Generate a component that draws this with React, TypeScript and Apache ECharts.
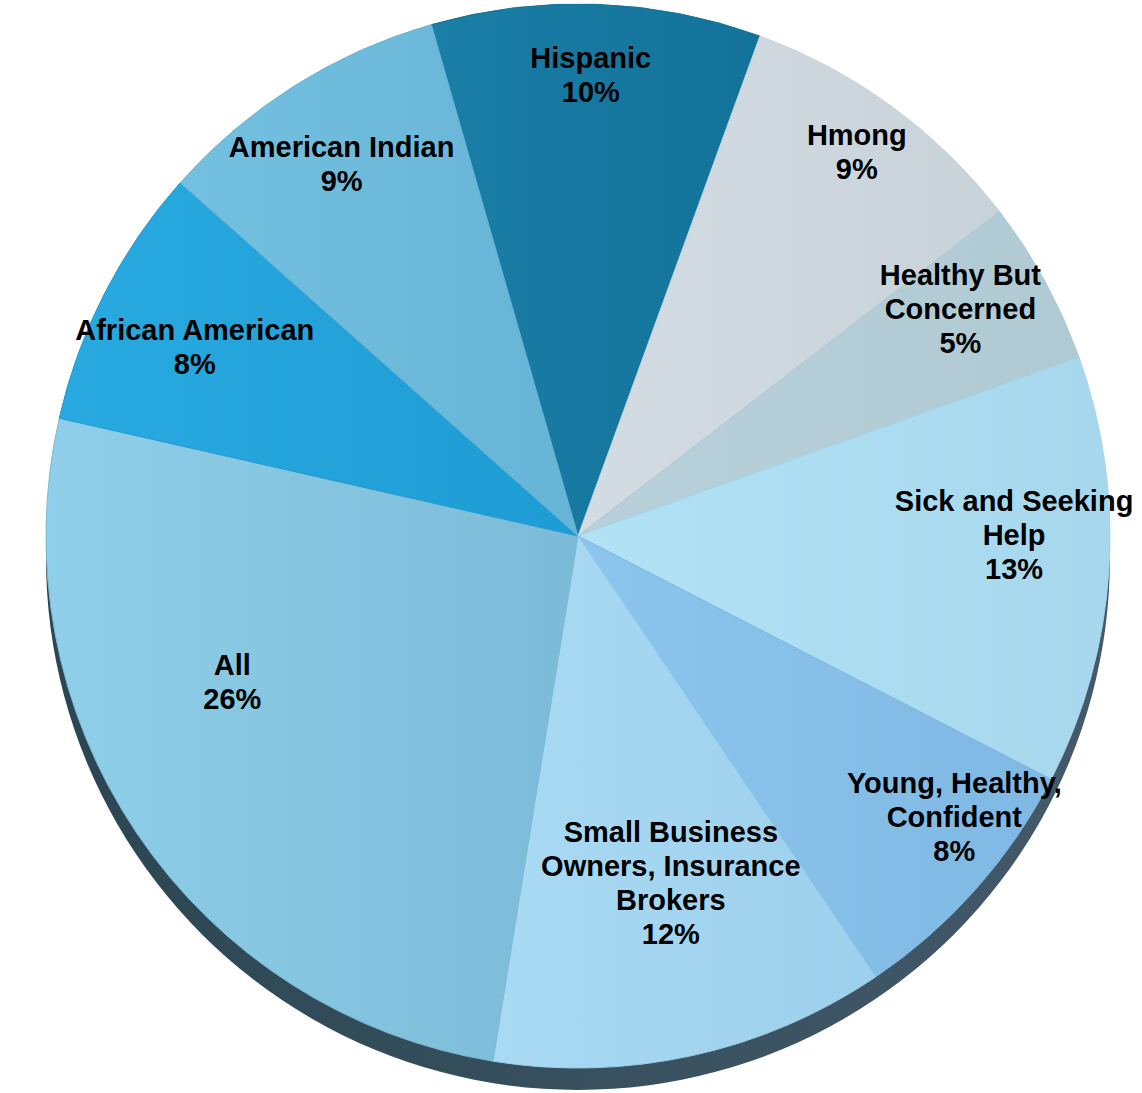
import React, { useEffect, useRef } from "react";
import * as echarts from "echarts";

const categories = [
  "Hispanic",
  "Hmong",
  "Healthy But\nConcerned",
  "Sick and Seeking\nHelp",
  "Young, Healthy,\nConfident",
  "Small Business\nOwners, Insurance\nBrokers",
  "All",
  "African American",
  "American Indian",
];
const values = [10, 9, 5, 13, 8, 12, 26, 8, 9];
const sliceColors = [
  ["#1a7ea6", "#13739a"],
  ["#d3dce2", "#c8d3d9"],
  ["#b8d0d9", "#b0cad4"],
  ["#b1e2f6", "#a6d7ec"],
  ["#8cc6ee", "#7fb8e2"],
  ["#a9daf4", "#9dd0ec"],
  ["#8fcfe9", "#7bbbd7"],
  ["#28aae0", "#1e9cd4"],
  ["#74c0e0", "#66b4d6"],
];

// label nudges (layout only)
const nudges: [number, number][] = [
  [-4, 0], [27, -5], [9, 13], [12, 9], [58, 38], [0, -28], [3, -53], [-9, 42], [-13, 24],
];

export default function App() {
  const ref = useRef<HTMLDivElement>(null);
  useEffect(() => {
    if (!ref.current) return;
    const chart = echarts.init(ref.current, null, { renderer: "svg" });
    const grad = (c: string[]) =>
      new echarts.graphic.LinearGradient(0, 0, 1, 0, [
        { offset: 0, color: c[0] },
        { offset: 1, color: c[1] },
      ]);
    chart.setOption({
      animation: false,
      backgroundColor: "#ffffff",
      series: [
        {
          type: "pie",
          silent: true,
          center: [578, 558],
          radius: 532,
          label: { show: false },
          labelLine: { show: false },
          itemStyle: { borderWidth: 0 },
          data: [
            {
              value: 1,
              itemStyle: {
                color: new echarts.graphic.LinearGradient(0, 0, 1, 0, [
                  { offset: 0, color: "#2b4652" },
                  { offset: 1, color: "#44596a" },
                ]),
              },
            },
          ],
        },
        {
          type: "pie",
          silent: true,
          center: [578, 536],
          radius: 532,
          startAngle: 106,
          clockwise: true,
          avoidLabelOverlap: false,
          label: { show: false },
          labelLine: { show: false },
          data: values.map((v, i) => ({
            name: categories[i],
            value: v,
            itemStyle: {
              color: grad(sliceColors[i]),
              borderWidth: 1,
              borderColor: sliceColors[i][1],
            },
          })),
        },
        {
          type: "pie",
          silent: true,
          center: [580, 498],
          radius: [300, 540],
          startAngle: 106,
          clockwise: true,
          avoidLabelOverlap: false,
          itemStyle: {
            color: "rgba(0,0,0,0)",
            borderWidth: 0,
            borderColor: "rgba(0,0,0,0)",
          },
          labelLine: { show: false },
          label: {
            show: true,
            position: "inside",
            formatter: (p: any) => `${p.name}\n${p.value}%`,
            fontFamily: "Liberation Sans, Arial, sans-serif",
            fontWeight: "bold",
            fontSize: 29,
            lineHeight: 34,
            color: "#000000",
            align: "center",
          },
          labelLayout: (p: any) => ({
            dx: nudges[p.dataIndex][0],
            dy: nudges[p.dataIndex][1],
          }),
          data: values.map((v, i) => ({ name: categories[i], value: v })),
        },
      ],
    });
    return () => chart.dispose();
  }, []);
  return (
    <div
      ref={ref}
      style={{ position: "fixed", left: 0, top: 0, width: 1142, height: 1093 }}
    />
  );
}
